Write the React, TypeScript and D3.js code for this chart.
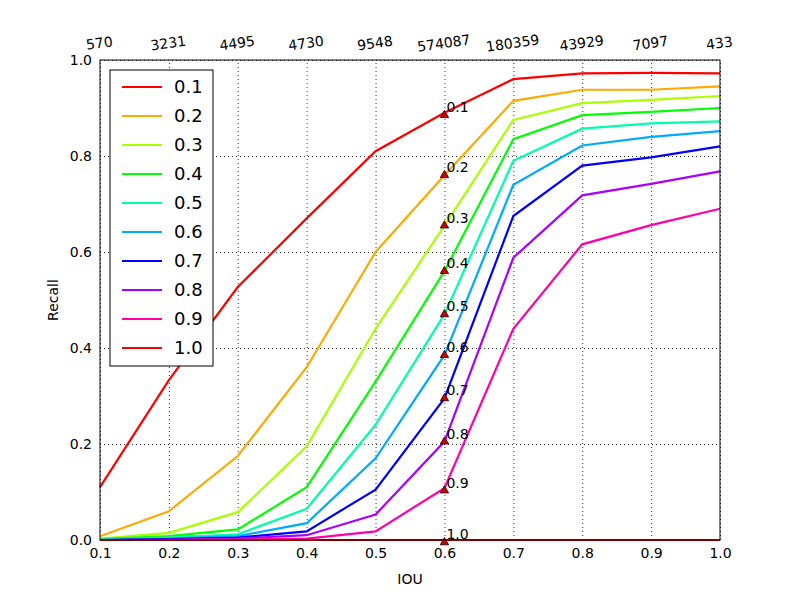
import React, { useEffect, useRef } from "react";
import * as d3 from "d3";

const ious = [0.1, 0.2, 0.3, 0.4, 0.5, 0.6, 0.7, 0.8, 0.9, 1.0];
const thresholds = ["0.1", "0.2", "0.3", "0.4", "0.5", "0.6", "0.7", "0.8", "0.9", "1.0"];
const topLabels = ["570", "3231", "4495", "4730", "9548", "574087", "180359", "43929", "7097", "433"];
const recall = [
  [0.11, 0.333, 0.527, 0.67, 0.81, 0.89, 0.96, 0.972, 0.973, 0.972],
  [0.008, 0.06, 0.175, 0.36, 0.6, 0.76, 0.915, 0.938, 0.938, 0.945],
  [0.003, 0.015, 0.058, 0.195, 0.44, 0.655, 0.875, 0.91, 0.917, 0.925],
  [0.002, 0.008, 0.022, 0.11, 0.33, 0.56, 0.835, 0.885, 0.892, 0.9],
  [0.001, 0.005, 0.012, 0.065, 0.24, 0.47, 0.79, 0.857, 0.868, 0.872],
  [0, 0.003, 0.008, 0.035, 0.17, 0.385, 0.74, 0.822, 0.84, 0.852],
  [0, 0.002, 0.005, 0.018, 0.105, 0.295, 0.675, 0.78, 0.797, 0.82],
  [0, 0.001, 0.003, 0.01, 0.053, 0.205, 0.588, 0.718, 0.742, 0.768],
  [0, 0, 0.001, 0.003, 0.018, 0.108, 0.44, 0.616, 0.656, 0.69],
  [0, 0, 0, 0, 0, 0, 0, 0, 0, 0],
];
const markerIou = 0.6;
const markerVals = [0.885, 0.76, 0.655, 0.56, 0.47, 0.385, 0.295, 0.205, 0.103, -0.005];

export default function App() {
  const ref = useRef<SVGSVGElement>(null);
  useEffect(() => {
    const svg = d3.select(ref.current);
    svg.selectAll("*").remove();
    const m = { left: 100, top: 60, w: 620, h: 480 };
    const x = d3.scaleLinear().domain([0.1, 1.0]).range([0, m.w]);
    const y = d3.scaleLinear().domain([0, 1]).range([m.h, 0]);
    const font = "DejaVu Sans, sans-serif";
    const color = (i: number) => d3.hsl(i * 40, 1, 0.5).toString();
    const g = svg.append("g").attr("transform", `translate(${m.left},${m.top})`);

    const ticks = d3.range(0, 1.01, 0.2);
    const xa = g.append("g").attr("transform", `translate(0,${m.h})`)
      .call(d3.axisBottom(x).tickValues(ious).tickFormat(d3.format(".1f")).tickSize(-m.h).tickPadding(8));
    const ya = g.append("g")
      .call(d3.axisLeft(y).tickValues(ticks).tickFormat(d3.format(".1f")).tickSize(-m.w).tickPadding(8));
    [xa, ya].forEach((a) => {
      a.select(".domain").remove();
      a.selectAll("line").attr("stroke", "#000").attr("stroke-dasharray", "1,3").attr("stroke-width", 0.8);
      a.selectAll("text").attr("font-family", font).attr("font-size", 14).attr("fill", "#000");
    });

    const line = d3.line<number>().x((_, i) => x(ious[i])).y((d) => y(d));
    recall.forEach((s, i) => {
      g.append("path").datum(s).attr("d", line).attr("fill", "none")
        .attr("stroke", color(i)).attr("stroke-width", 2.2);
    });

    markerVals.forEach((v, i) => {
      g.append("path").attr("d", d3.symbol(d3.symbolTriangle, 30)())
        .attr("transform", `translate(${x(markerIou)},${y(v)})`)
        .attr("fill", "#d40000").attr("stroke", "#000").attr("stroke-width", 0.8);
      g.append("text").attr("x", x(markerIou) + 2).attr("y", y(v) - 3)
        .attr("font-family", font).attr("font-size", 14).text(thresholds[i]);
    });

    g.append("rect").attr("width", m.w).attr("height", m.h)
      .attr("fill", "none").attr("stroke", "#000").attr("stroke-width", 1);

    ious.forEach((v, i) => {
      g.append("text").attr("transform", `translate(${x(v)},-12) rotate(-8)`)
        .attr("text-anchor", "middle").attr("font-family", font).attr("font-size", 14)
        .text(topLabels[i]);
    });

    g.append("text").attr("x", m.w / 2).attr("y", m.h + 44).attr("text-anchor", "middle")
      .attr("font-family", font).attr("font-size", 14).text("IOU");
    g.append("text").attr("transform", `translate(-42,${m.h / 2}) rotate(-90)`)
      .attr("text-anchor", "middle").attr("font-family", font).attr("font-size", 14).text("Recall");

    const lg = g.append("g").attr("transform", "translate(10,10)");
    lg.append("rect").attr("width", 103).attr("height", 296).attr("fill", "#fff")
      .attr("stroke", "#000").attr("stroke-width", 1);
    thresholds.forEach((t, i) => {
      const yy = 17 + i * 29;
      lg.append("line").attr("x1", 12).attr("x2", 52).attr("y1", yy).attr("y2", yy)
        .attr("stroke", color(i)).attr("stroke-width", 2.2);
      lg.append("text").attr("x", 64).attr("y", yy + 6).attr("font-family", font)
        .attr("font-size", 18).text(t);
    });
  }, []);
  return <svg ref={ref} width={800} height={600} style={{ position: "absolute", left: 0, top: 0, background: "#fff" }} />;
}
